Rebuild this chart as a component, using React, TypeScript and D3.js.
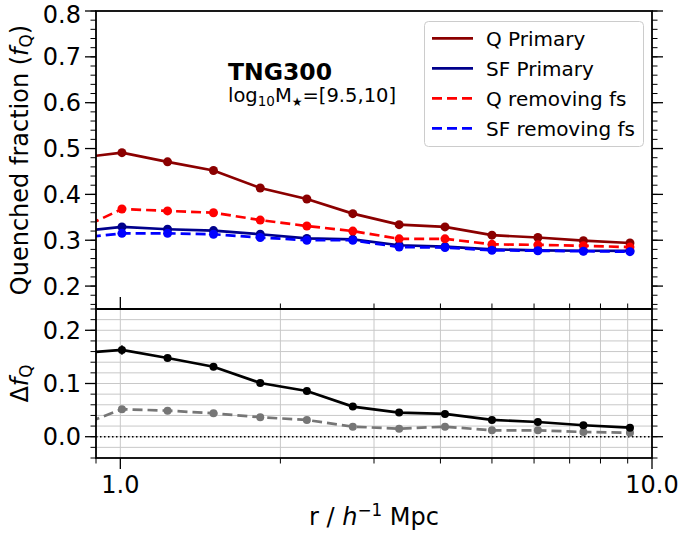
import React from 'react';
import * as d3 from 'd3';

// ---------------- data ----------------
const rValues = [0.825, 1.007, 1.227, 1.497, 1.833, 2.243, 2.737, 3.345, 4.08, 5.0, 6.1, 7.43, 9.09];
const qPrimary = [0.479, 0.491, 0.471, 0.452, 0.414, 0.390, 0.358, 0.334, 0.329, 0.311, 0.306, 0.299, 0.294];
const qPrimaryErr = [0.008, 0.008, 0.005, 0.005, 0.004, 0.004, 0.004, 0.003, 0.003, 0.003, 0.002, 0.002, 0.002];
const sfPrimary = [0.319, 0.329, 0.324, 0.321, 0.313, 0.304, 0.302, 0.289, 0.286, 0.280, 0.278, 0.277, 0.277];
const sfPrimaryErr = [0.003, 0.003, 0.002, 0.002, 0.002, 0.002, 0.002, 0.002, 0.002, 0.001, 0.001, 0.001, 0.001];
const qRemoving = [0.321, 0.368, 0.364, 0.360, 0.344, 0.331, 0.320, 0.303, 0.303, 0.291, 0.290, 0.288, 0.285];
const qRemovingErr = [0.004, 0.004, 0.003, 0.003, 0.003, 0.003, 0.002, 0.002, 0.002, 0.002, 0.002, 0.001, 0.001];
const sfRemoving = [0.304, 0.315, 0.315, 0.313, 0.306, 0.300, 0.300, 0.285, 0.284, 0.278, 0.277, 0.276, 0.275];
const sfRemovingErr = [0.003, 0.003, 0.002, 0.002, 0.002, 0.002, 0.002, 0.002, 0.001, 0.001, 0.001, 0.001, 0.001];
const deltaPrimary = [0.157, 0.163, 0.148, 0.1315, 0.101, 0.086, 0.0566, 0.0453, 0.0428, 0.0315, 0.0277, 0.0215, 0.017];
const deltaPrimaryErr = [0.009, 0.009, 0.004, 0.004, 0.004, 0.004, 0.003, 0.003, 0.003, 0.003, 0.003, 0.003, 0.003];
const deltaRemoving = [0.018, 0.0517, 0.049, 0.044, 0.0366, 0.0315, 0.0189, 0.0151, 0.0189, 0.012, 0.012, 0.0089, 0.0075];
const deltaRemovingErr = [0.003, 0.003, 0.003, 0.003, 0.003, 0.003, 0.003, 0.003, 0.003, 0.003, 0.003, 0.003, 0.003];

const topYTickValues = [0.2, 0.3, 0.4, 0.5, 0.6, 0.7, 0.8];
const topYTickLabels = ['0.2', '0.3', '0.4', '0.5', '0.6', '0.7', '0.8'];
const botYTickValues = [0.0, 0.1, 0.2];
const botYTickLabels = ['0.0', '0.1', '0.2'];
const xMajorTicks = [1, 10];
const xMajorLabels = ['1.0', '10.0'];
const xMinorTicks = [0.9, 2, 3, 4, 5, 6, 7, 8, 9];

const legendLabels = ['Q Primary', 'SF Primary', 'Q removing fs', 'SF removing fs'];

// ---------------- layout ----------------
const W = 683;
const H = 537;
const X0 = 96;
const X1 = 652;
const TOP_Y0 = 11;
const TOP_Y1 = 309;
const BOT_Y0 = 309;
const BOT_Y1 = 458;
const FONT = 'DejaVu Sans';
const MAJ = 11;
const MIN = 5.5;

export default function App() {
  const x = d3.scaleLog().domain([0.9, 10]).range([X0, X1]);
  const yTop = d3.scaleLinear().domain([0.15, 0.8]).range([TOP_Y1, TOP_Y0]);
  const yBot = d3.scaleLinear().domain([-0.04, 0.24]).range([BOT_Y1, BOT_Y0]);

  const mkLine = (vals: number[], ys: d3.ScaleLinear<number, number>) =>
    d3.line<number>().x((_, i) => x(rValues[i])).y((d) => ys(d))(vals) || '';

  const topMinor = d3.range(0.16, 0.8001, 0.02);
  const botMinor = d3.range(-0.04, 0.2401, 0.02);

  const topSeries = [
    { vals: sfRemoving, err: sfRemovingErr, color: '#0000ff', dash: '10,5', r: 4.5 },
    { vals: qRemoving, err: qRemovingErr, color: '#ff0000', dash: '10,5', r: 4.5 },
    { vals: sfPrimary, err: sfPrimaryErr, color: '#00008b', dash: '', r: 4.5 },
    { vals: qPrimary, err: qPrimaryErr, color: '#8b0000', dash: '', r: 4.5 },
  ];
  const topOrder = [topSeries[3], topSeries[2], topSeries[1], topSeries[0]];
  const botSeries = [
    { vals: deltaPrimary, err: deltaPrimaryErr, color: '#000000', dash: '', r: 4 },
    { vals: deltaRemoving, err: deltaRemovingErr, color: '#767676', dash: '10,5', r: 4 },
  ];
  const legendItems = [
    { label: legendLabels[0], color: '#8b0000', dash: '' },
    { label: legendLabels[1], color: '#00008b', dash: '' },
    { label: legendLabels[2], color: '#ff0000', dash: '10,5' },
    { label: legendLabels[3], color: '#0000ff', dash: '10,5' },
  ];

  const renderSeries = (
    s: { vals: number[]; err: number[]; color: string; dash: string; r: number },
    ys: d3.ScaleLinear<number, number>,
    key: string
  ) => (
    <g key={key}>
      <path d={mkLine(s.vals, ys)} fill="none" stroke={s.color} strokeWidth={2.7} strokeDasharray={s.dash || undefined} />
      {s.vals.map((v, i) => (
        <line key={'e' + i} x1={x(rValues[i])} x2={x(rValues[i])} y1={ys(v - s.err[i])} y2={ys(v + s.err[i])} stroke={s.color} strokeWidth={1.5} />
      ))}
      {s.vals.map((v, i) => (
        <circle key={'c' + i} cx={x(rValues[i])} cy={ys(v)} r={s.r} fill={s.color} />
      ))}
    </g>
  );

  return (
    <svg width={W} height={H} style={{ position: 'absolute', left: 0, top: 0, background: '#fff' }} fontFamily={FONT}>
      <defs>
        <clipPath id="clipTop">
          <rect x={X0} y={TOP_Y0} width={X1 - X0} height={TOP_Y1 - TOP_Y0} />
        </clipPath>
        <clipPath id="clipBot">
          <rect x={X0} y={BOT_Y0} width={X1 - X0} height={BOT_Y1 - BOT_Y0} />
        </clipPath>
      </defs>
      <rect x={0} y={0} width={W} height={H} fill="#fff" />

      {/* ---------- lower panel grid ---------- */}
      <g clipPath="url(#clipBot)">
        {botMinor.map((v, i) => (
          <line key={'gh' + i} x1={X0} x2={X1} y1={yBot(v)} y2={yBot(v)} stroke="#c8c8c8" strokeWidth={1} />
        ))}
        {[...xMajorTicks, ...xMinorTicks].map((v, i) => (
          <line key={'gv' + i} x1={x(v)} x2={x(v)} y1={BOT_Y0} y2={BOT_Y1} stroke="#c8c8c8" strokeWidth={1} />
        ))}
      </g>

      {/* ---------- top panel data ---------- */}
      <g clipPath="url(#clipTop)">{topOrder.map((s, i) => renderSeries(s, yTop, 't' + i))}</g>

      {/* ---------- lower panel data ---------- */}
      <g clipPath="url(#clipBot)">
        <line x1={X0} x2={X1} y1={yBot(0)} y2={yBot(0)} stroke="#000" strokeWidth={1.5} strokeDasharray="1.5,2.5" />
        {[botSeries[1], botSeries[0]].map((s, i) => renderSeries(s, yBot, 'b' + i))}
      </g>

      {/* ---------- ticks: top panel y ---------- */}
      {topMinor.map((v, i) => (
        <g key={'tmn' + i}>
          <line x1={X0 - MIN} x2={X0} y1={yTop(v)} y2={yTop(v)} stroke="#000" strokeWidth={1} />
          <line x1={X1} x2={X1 + MIN} y1={yTop(v)} y2={yTop(v)} stroke="#000" strokeWidth={1} />
        </g>
      ))}
      {topYTickValues.map((v, i) => (
        <g key={'tmj' + i}>
          <line x1={X0 - MAJ} x2={X0} y1={yTop(v)} y2={yTop(v)} stroke="#000" strokeWidth={1.3} />
          <line x1={X1} x2={X1 + MAJ} y1={yTop(v)} y2={yTop(v)} stroke="#000" strokeWidth={1.3} />
          <text x={81} y={Math.max(yTop(v), 14.5)} dy="0.36em" textAnchor="end" fontSize={24} fill="#000">
            {topYTickLabels[i]}
          </text>
        </g>
      ))}

      {/* ---------- ticks: lower panel y ---------- */}
      {botMinor.map((v, i) => (
        <g key={'bmn' + i}>
          <line x1={X0 - MIN} x2={X0} y1={yBot(v)} y2={yBot(v)} stroke="#000" strokeWidth={1} />
          <line x1={X1} x2={X1 + MIN} y1={yBot(v)} y2={yBot(v)} stroke="#000" strokeWidth={1} />
        </g>
      ))}
      {botYTickValues.map((v, i) => (
        <g key={'bmj' + i}>
          <line x1={X0 - MAJ} x2={X0} y1={yBot(v)} y2={yBot(v)} stroke="#000" strokeWidth={1.3} />
          <line x1={X1} x2={X1 + MAJ} y1={yBot(v)} y2={yBot(v)} stroke="#000" strokeWidth={1.3} />
          <text x={81} y={yBot(v)} dy="0.36em" textAnchor="end" fontSize={24} fill="#000">
            {botYTickLabels[i]}
          </text>
        </g>
      ))}

      {/* ---------- ticks: x ---------- */}
      {xMinorTicks.map((v, i) => (
        <g key={'xmn' + i}>
          <line x1={x(v)} x2={x(v)} y1={TOP_Y1 - MIN} y2={TOP_Y1} stroke="#000" strokeWidth={1} />
          <line x1={x(v)} x2={x(v)} y1={BOT_Y1} y2={BOT_Y1 + MIN} stroke="#000" strokeWidth={1} />
        </g>
      ))}
      {xMajorTicks.map((v, i) => (
        <g key={'xmj' + i}>
          <line x1={x(v)} x2={x(v)} y1={TOP_Y1 - MAJ - 1} y2={TOP_Y1} stroke="#000" strokeWidth={1.3} />
          <line x1={x(v)} x2={x(v)} y1={BOT_Y1} y2={BOT_Y1 + MAJ} stroke="#000" strokeWidth={1.3} />
          <text x={x(v)} y={493} textAnchor="middle" fontSize={24} fill="#000">
            {xMajorLabels[i]}
          </text>
        </g>
      ))}

      {/* ---------- spines ---------- */}
      <rect x={X0} y={TOP_Y0} width={X1 - X0} height={TOP_Y1 - TOP_Y0} fill="none" stroke="#000" strokeWidth={1.8} />
      <rect x={X0} y={BOT_Y0} width={X1 - X0} height={BOT_Y1 - BOT_Y0} fill="none" stroke="#000" strokeWidth={1.8} />

      {/* ---------- annotation ---------- */}
      <text x={228} y={79.5} fontSize={23.5} fontWeight="bold" fill="#000">TNG300</text>
      <text x={228} y={102} fontSize={19.5} fill="#000">
        <tspan>log</tspan>
        <tspan fontSize={13.5} dy={4}>10</tspan>
        <tspan dy={-4}>M</tspan>
        <tspan fontSize={12} dy={4}>★</tspan>
        <tspan dy={-4}>=[9.5,10]</tspan>
      </text>

      {/* ---------- legend ---------- */}
      <rect x={424.5} y={21.5} width={219} height={125} rx={4} fill="#fff" fillOpacity={0.8} stroke="#cccccc" strokeWidth={1} />
      {legendItems.map((it, i) => {
        const cy = 38.3 + i * 30;
        return (
          <g key={'lg' + i}>
            <line x1={432} x2={473} y1={cy} y2={cy} stroke={it.color} strokeWidth={2.8} strokeDasharray={it.dash || undefined} />
            <text x={486} y={cy} dy="0.36em" fontSize={20} fill="#000">
              {it.label}
            </text>
          </g>
        );
      })}

      {/* ---------- axis labels ---------- */}
      <text transform={`translate(28,${(TOP_Y0 + TOP_Y1) / 2}) rotate(-90)`} textAnchor="middle" fontSize={24} fill="#000">
        <tspan>Quenched fraction (</tspan>
        <tspan fontStyle="italic">f</tspan>
        <tspan fontSize={16.8} dy={4}>Q</tspan>
        <tspan dy={-4}>)</tspan>
      </text>
      <text transform={`translate(28,${(BOT_Y0 + BOT_Y1) / 2}) rotate(-90)`} textAnchor="middle" fontSize={24} fill="#000">
        <tspan>Δ</tspan>
        <tspan fontStyle="italic">f</tspan>
        <tspan fontSize={16.8} dy={4}>Q</tspan>
      </text>
      <text x={(X0 + X1) / 2} y={525} textAnchor="middle" fontSize={24} fill="#000">
        <tspan>r / </tspan>
        <tspan fontStyle="italic">h</tspan>
        <tspan fontSize={16.8} dy={-9}>−1</tspan>
        <tspan dy={9}> Mpc</tspan>
      </text>
    </svg>
  );
}
